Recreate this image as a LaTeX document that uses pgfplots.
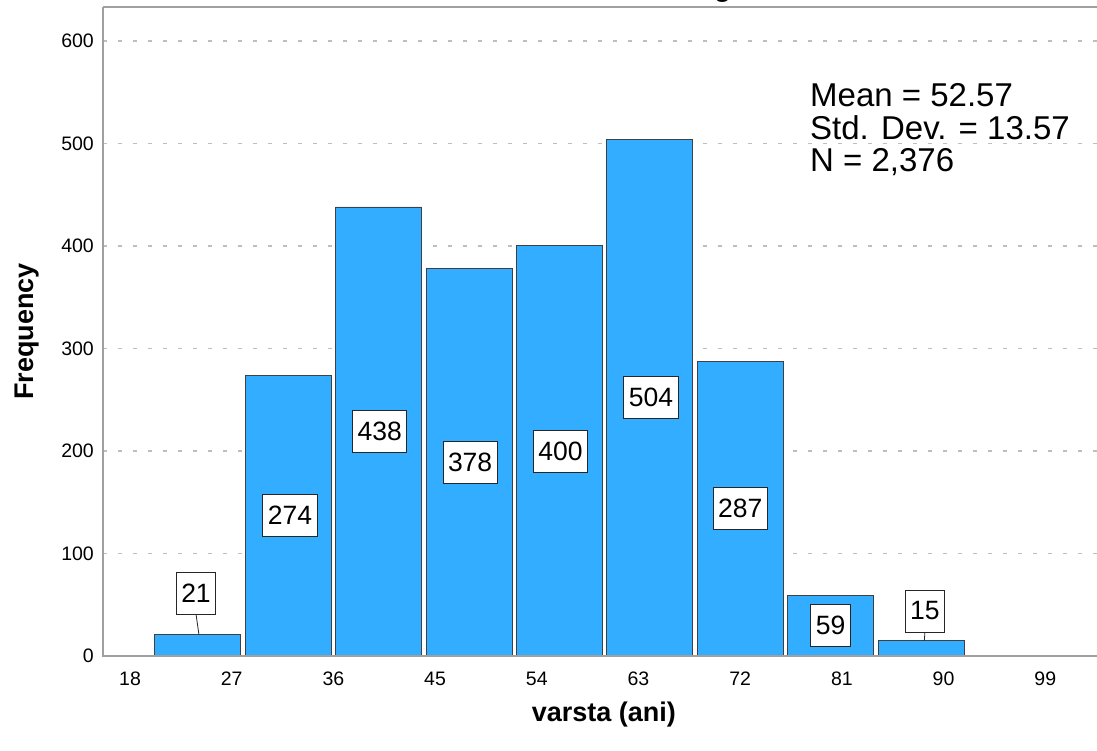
\documentclass[border=0pt]{standalone}
\usepackage{fontspec}
\setmainfont{Liberation Sans}
\usepackage{pgfplots}
\pgfplotsset{compat=1.18}
\definecolor{barblue}{RGB}{51,173,255}
\definecolor{axgray}{RGB}{160,160,160}
\definecolor{gridgray}{RGB}{190,190,190}
\begin{document}
\begin{tikzpicture}
\begin{axis}[
 scale only axis, width=994pt, height=649pt,
 xmin=15.61, xmax=103.58, ymin=0, ymax=633,
 xtick={18,27,...,99}, ytick={0,100,...,600},
 axis line style={draw=none},
 major tick length=0pt,
 ymajorgrids, grid style={gridgray, line width=1.5pt, dash pattern=on 4pt off 11pt},
 /pgf/number format/assume math mode=true,
 tick label style={font=\fontsize{19.5}{22}\selectfont, inner sep=0pt},
 xticklabel style={anchor=north, yshift=-16pt},
 yticklabel style={anchor=east, xshift=-9pt},
 xlabel={varsta (ani)}, ylabel={Frequency},
 label style={font=\fontsize{27}{30}\selectfont\bfseries},
 xlabel style={at={(axis description cs:0.504,-0.0895)}, anchor=center},
 ylabel style={at={(axis description cs:-0.0765,0.5)}, anchor=center},
 clip=false,
]
\addplot[ybar, bar width=7.6, fill=barblue, draw=black!75, line width=0.8pt]
 coordinates {(24,21) (32,274) (40,438) (48,378) (56,400) (64,504) (72,287) (80,59) (88,15)};
\addplot[draw=none, mark=none, forget plot, nodes near coords, point meta=explicit symbolic,
 every node near coord/.style={draw=black!85, fill=white, line width=0.8pt, anchor=center,
 font=\fontsize{26.5}{28}\selectfont, minimum height=42pt, inner xsep=5pt, text=black}]
 coordinates {(23.84,61.5)[21] (32.16,137)[274] (40.1,219)[438] (48.1,189)[378] (56.1,200)[400] (64.1,252)[504] (72,143.5)[287] (80,29.5)[59] (88.35,43.9)[15]};
\draw[black!85, line width=0.8pt] (axis cs:23.84,41) -- (axis cs:24.1,21);
\draw[black!85, line width=0.8pt] (axis cs:88.35,23.4) -- (axis cs:88.3,15);
\draw[axgray, line width=2pt] (rel axis cs:0,1) -- (rel axis cs:0,0) -- (rel axis cs:1,0);
\draw[axgray, line width=2pt] (rel axis cs:0,1) -- (rel axis cs:1,1);
\end{axis}
\node[anchor=base west, font=\fontsize{33}{34}\selectfont, inner sep=0pt] at (707pt,549pt) {Mean = 52.57};
\node[anchor=base west, font=\fontsize{33}{34}\selectfont, inner sep=0pt] at (707pt,516pt) {Std. Dev. = 13.57};
\node[anchor=base west, font=\fontsize{33}{34}\selectfont, inner sep=0pt] at (707pt,484pt) {N = 2,376};
\node[anchor=base west, font=\fontsize{28}{30}\selectfont\bfseries, inner sep=0pt] at (541pt,659pt) {Histogram};
\pgfresetboundingbox
\path[use as bounding box] (-103pt,-94pt) rectangle (994pt,656pt);
\end{tikzpicture}
\end{document}
